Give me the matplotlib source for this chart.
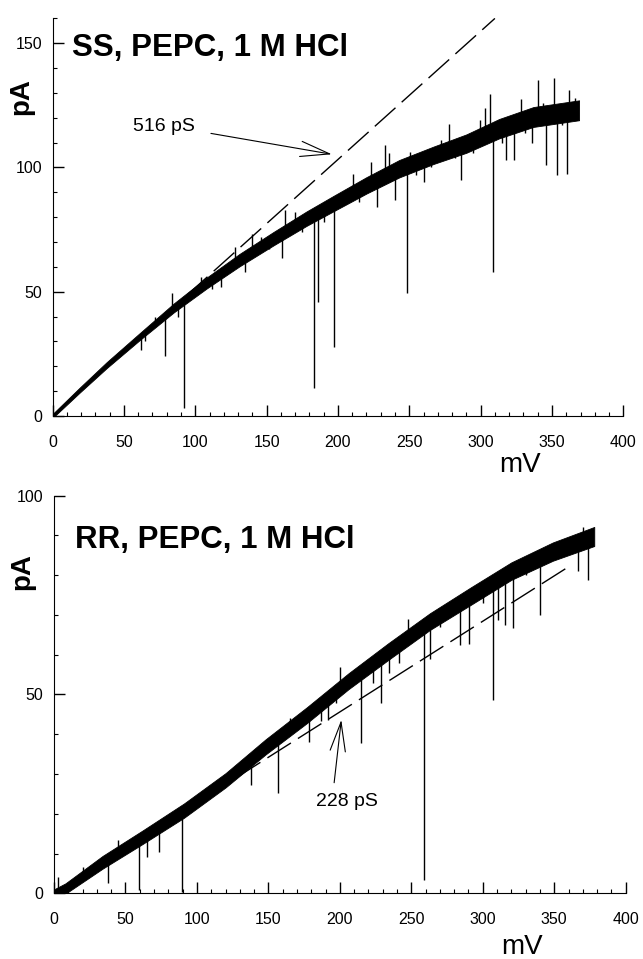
import numpy as np
import matplotlib
matplotlib.use("Agg")
import matplotlib.pyplot as plt

plt.rcParams['font.family'] = ['Liberation Sans', 'DejaVu Sans']

# ---- top panel: SS, PEPC (mV, pA), band centre and half width
top_mv = [0, 19, 38, 61, 85, 108, 131, 155, 178, 197, 220, 243, 267, 290, 313, 337, 369]
top_pa = [0, 10.4, 20.5, 31.9, 43.5, 53.5, 62.7, 71.4, 79.4, 85.5, 92.8, 99.5, 104.9, 109.6, 115.6, 120.3, 123]
top_hw = [0.8, 1.0, 1.2, 1.4, 1.8, 2.2, 2.5, 2.7, 2.9, 3.1, 3.3, 3.5, 3.5, 3.7, 3.9, 4.0, 4.0]
# spikes: voltage and the current the spike reaches
top_spike_mv = [62, 79, 92, 161, 183, 186, 197, 227.7, 239.8, 248.5, 260, 286.5, 308.7, 318, 323.4, 336, 346, 353.5, 360.8,
                84, 128, 140, 163, 210.6, 223, 232.8, 250.3, 277.7, 299.4, 306.9, 328.6, 340, 351.2, 362,
                65, 72, 88, 104, 112, 118, 121, 135, 146, 152, 170, 175, 190, 205, 215, 236, 255, 265, 272,
                282, 295, 303, 315, 331, 344, 357, 366]
top_spike_pa = [26.5, 24.1, 3.1, 63.4, 11.1, 46, 27.8, 84.1, 86.8, 49.3, 94.1, 94.8, 58, 102.8, 102.8, 110, 100.8, 96.8, 97.5,
                49.3, 68, 73.4, 82.8, 97.5, 102.2, 108.9, 106.2, 117.6, 118.9, 129.6, 127.6, 135, 136, 131.3,
                30, 40, 40, 56, 51, 52, 60, 58, 72, 67, 82, 74, 78, 91, 86, 106, 97, 100, 111,
                104, 106, 124, 110, 114, 126, 117, 128]
top_g_ps = 516  # pS
top_fit_mv = [0, 310]

# ---- bottom panel: RR, PEPC
bot_mv = [0, 8, 34, 62, 91, 120, 148, 177, 206, 234, 263, 292, 320, 349, 378]
bot_pa = [0, 1.2, 7.8, 14.1, 20.8, 28.4, 36.8, 44.8, 53.3, 60.8, 68.3, 74.8, 81.0, 85.9, 89.7]
bot_hw = [1.0, 1.3, 1.6, 1.7, 1.8, 1.8, 1.9, 2.0, 2.0, 2.1, 2.1, 2.2, 2.2, 2.3, 2.4]
bot_spike_mv = [37.6, 59.7, 65.4, 73.2, 89.8, 137.6, 156.6, 178.6, 186.5, 191.8, 197.2, 214.5, 222.9, 228.7, 234.5,
                241.5, 258.7, 263, 284, 290.4, 307.2, 310.5, 315.4, 321, 340, 366.4, 373.5,
                3, 20, 45, 110, 165, 200, 248, 270, 300, 330, 355, 370]
bot_spike_pa = [2.5, 0.8, 9.2, 10.5, 0.4, 27.2, 25.3, 38.1, 43.2, 43.6, 47.8, 37.7, 52.8, 47.8, 55.3,
                57.8, 3.3, 59, 62.4, 62.7, 48.6, 68.7, 67.5, 66.6, 70, 80.9, 78.8,
                4, 6.5, 13.5, 27, 44, 57, 69, 67, 73, 80, 85, 92]
bot_g_ps = 228
bot_fit_mv = [0, 362]

fig = plt.figure(figsize=(6.43, 9.59), dpi=100)
ax1 = fig.add_axes([0.0817, 0.5662, 0.8877, 0.4147])
ax2 = fig.add_axes([0.0840, 0.0685, 0.8891, 0.4148])


def draw_panel(ax, mv, pa, hw, smv, spa, g, fit_mv, ymax, ymaj):
    mv = np.array(mv)
    pa = np.array(pa)
    hw = np.array(hw)
    ax.fill_between(mv, pa - hw, pa + hw, color='black', lw=0.6, zorder=3)
    base = np.interp(smv, mv, pa)
    ax.vlines(smv, np.minimum(base, spa), np.maximum(base, spa), color='black', lw=1.0, zorder=3)
    fx = np.array(fit_mv)
    ax.plot(fx, fx * g / 1000.0, color='black', lw=1.0, ls=(0, (20, 6)), zorder=2)

    ax.set_xlim(0, 400)
    ax.set_ylim(0, ymax)
    ax.spines['top'].set_visible(False)
    ax.spines['right'].set_visible(False)
    ax.set_xticks(np.arange(0, 401, 50))
    ax.set_xticks(np.arange(0, 401, 10), minor=True)
    ax.set_yticks(np.arange(0, ymax + 1, ymaj))
    ax.set_yticks(np.arange(0, ymax + 1, 10), minor=True)
    ax.tick_params(which='both', direction='in', color='black')
    ax.tick_params(which='major', length=8, width=1)
    ax.tick_params(which='minor', length=3, width=0.8)
    ax.tick_params(axis='x', which='major', pad=13.5, labelsize=11.5)
    ax.tick_params(axis='y', which='major', pad=7.5, labelsize=11.5)


draw_panel(ax1, top_mv, top_pa, top_hw, top_spike_mv, top_spike_pa, top_g_ps, top_fit_mv, 160, 50)
draw_panel(ax2, bot_mv, bot_pa, bot_hw, bot_spike_mv, bot_spike_pa, bot_g_ps, bot_fit_mv, 100, 50)

ax1.text(13.7, 148, 'SS, PEPC, 1 M HCl', fontsize=22.5, fontweight='bold', va='center', ha='left')
ax2.text(14.7, 88.9, 'RR, PEPC, 1 M HCl', fontsize=22.5, fontweight='bold', va='center', ha='left')

for ax, yfrac in [(ax1, 0.802), (ax2, 0.808)]:
    ax.text(-0.055, yfrac, 'pA', transform=ax.transAxes, rotation=90, fontsize=20,
            fontweight='bold', ha='center', va='center')
ax1.text(0.819, -0.123, 'mV', transform=ax1.transAxes, fontsize=20, ha='center', va='center')
ax2.text(0.8186, -0.135, 'mV', transform=ax2.transAxes, fontsize=20, ha='center', va='center')

arrow = dict(arrowstyle='->, head_length=2.1, head_width=0.55', color='black', lw=0.8,
             mutation_scale=10, shrinkA=0, shrinkB=0)
ax1.text(78, 116.5, '516 pS', fontsize=14, ha='center', va='center')
ax1.annotate('', xy=(195.7, 105.3), xytext=(111, 113.7), arrowprops=arrow)
ax2.text(205, 23, '228 pS', fontsize=14, ha='center', va='center')
ax2.annotate('', xy=(201, 43.6), xytext=(196, 27.8), arrowprops=arrow)

fig.savefig('out.png', dpi=100)
